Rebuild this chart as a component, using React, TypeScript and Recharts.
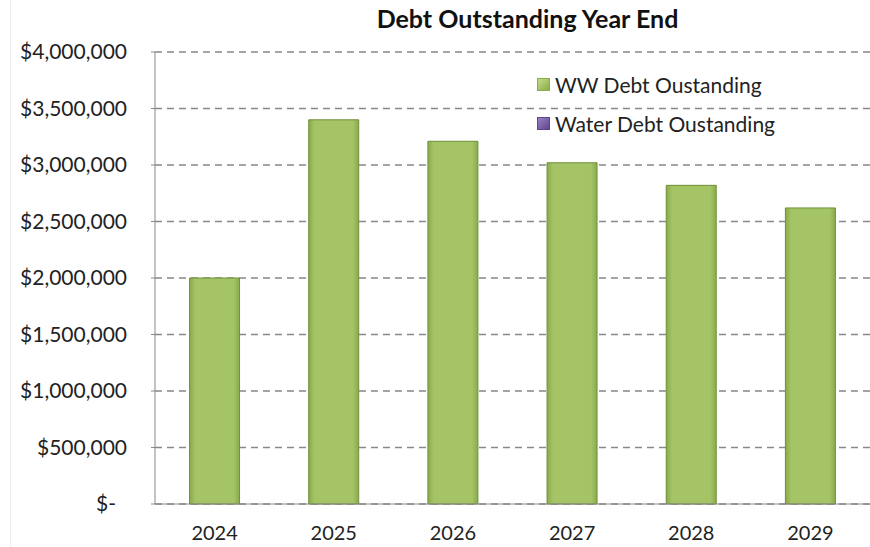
import React from 'react';
import { BarChart, Bar, XAxis, YAxis, CartesianGrid } from 'recharts';

const years = ['2024', '2025', '2026', '2027', '2028', '2029'];
const wwDebt = [2000000, 3400000, 3210000, 3020000, 2820000, 2620000];
const waterDebt = [0, 0, 0, 0, 0, 0];
const yTicks = [0, 500000, 1000000, 1500000, 2000000, 2500000, 3000000, 3500000, 4000000];

const data = years.map((year, i) => ({ year, ww: wwDebt[i], water: waterDebt[i] }));

const FONT = 'Lato, "Open Sans", sans-serif';

const fmt = (v: number) => (v === 0 ? '$-' : '$' + v.toLocaleString('en-US'));

const YTick = (props: any) => {
  const { x, y, payload } = props;
  const zero = payload.value === 0;
  return (
    <text x={zero ? x - 11 : x} y={y} dy={7} textAnchor="end" fill="#222" fontSize={21} fontFamily={FONT}>
      {fmt(payload.value)}
    </text>
  );
};

const legendItems = [
  { label: 'WW Debt Oustanding', a: '#c4dc8c', b: '#8aad45' },
  { label: 'Water Debt Oustanding', a: '#9a82c4', b: '#5e4690' },
];

export default function App() {
  return (
    <div style={{ position: 'absolute', left: 0, top: 0, width: 870, height: 547, background: '#fff' }}>
      <div style={{ position: 'absolute', left: 10, top: 0, width: 1, height: 547, background: '#eee' }} />
      <div
        style={{
          position: 'absolute',
          left: 155,
          width: 745,
          top: 3,
          textAlign: 'center',
          fontFamily: FONT,
          fontWeight: 'bold',
          fontSize: 25,
          color: '#111',
        }}
      >
        Debt Outstanding Year End
      </div>
      <BarChart width={870} height={547} data={data} margin={{ top: 52, right: 0, bottom: 13, left: 0 }} barCategoryGap="29%">
        <defs>
          <linearGradient id="gw" x1="0" y1="0" x2="1" y2="0">
            <stop offset="0" stopColor="#8aab4c" />
            <stop offset="0.12" stopColor="#a4c466" />
            <stop offset="0.88" stopColor="#a4c466" />
            <stop offset="1" stopColor="#8aab4c" />
          </linearGradient>
          <linearGradient id="gp" x1="0" y1="0" x2="1" y2="0">
            <stop offset="0" stopColor="#5e4690" />
            <stop offset="1" stopColor="#8064a2" />
          </linearGradient>
        </defs>
        <CartesianGrid vertical={false} stroke="#888" strokeDasharray="7 5" strokeWidth={1.3} />
        <XAxis
          dataKey="year"
          height={30}
          stroke="#888"
          tickLine={false}
          tick={{ fill: '#222', fontSize: 20, fontFamily: FONT }}
          tickMargin={16}
        />
        <YAxis
          width={155}
          domain={[0, 4000000]}
          ticks={yTicks}
          stroke="#888"
          tickSize={4}
          tickMargin={24}
          tick={<YTick />}
          interval={0}
        />
        <Bar dataKey="ww" stackId="a" fill="url(#gw)" stroke="#6f8f38" strokeWidth={1} isAnimationActive={false} />
        <Bar dataKey="water" stackId="a" fill="url(#gp)" isAnimationActive={false} />
      </BarChart>
      <div
        style={{
          position: 'absolute',
          left: 537,
          top: 65,
          fontFamily: FONT,
          fontSize: 21,
          color: '#222',
          lineHeight: '39px',
        }}
      >
        {legendItems.map((it) => (
          <div key={it.label} style={{ display: 'flex', alignItems: 'center' }}>
            <span
              style={{
                width: 13,
                height: 13,
                marginRight: 5,
                background: `linear-gradient(135deg, ${it.a}, ${it.b})`,
                border: `1px solid ${it.b}`,
                boxSizing: 'border-box',
              }}
            />
            {it.label}
          </div>
        ))}
      </div>
    </div>
  );
}
